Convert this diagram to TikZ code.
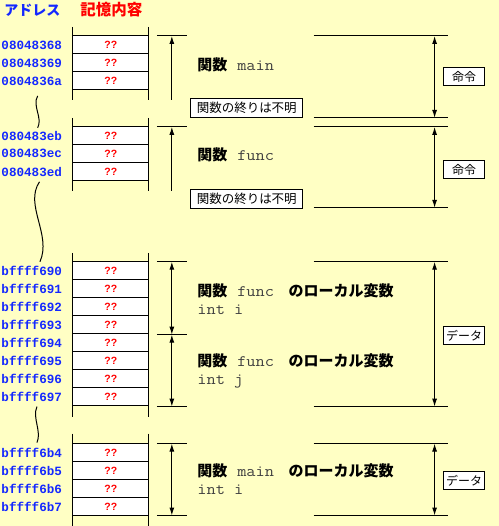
\documentclass[tikz,border=0pt]{standalone}
\usepackage{fontspec}
\usetikzlibrary{arrows.meta}
\newfontfamily\jp{Noto Sans CJK JP}
\newfontfamily\mono{Liberation Mono}
\newfontfamily\cour{Latin Modern Mono}[FakeStretch=1.12]
\newfontfamily\sans{Liberation Sans}
\definecolor{bg}{RGB}{255,255,196}
\definecolor{addrblue}{RGB}{20,40,255}
\definecolor{memred}{RGB}{255,0,0}
\begin{document}
\begin{tikzpicture}[x=1pt,y=-1pt,line width=1pt,
  cell/.style={draw,fill=white,minimum width=76pt,minimum height=18pt,inner sep=0pt,
    text=memred,font=\fontsize{10.5}{10.5}\selectfont\sans\bfseries},
  addr/.style={anchor=west,inner sep=0pt,text=addrblue,font=\fontsize{12.6}{12.6}\selectfont\mono\bfseries},
  fnlabel/.style={anchor=west,inner sep=0pt,font=\fontsize{15}{15}\selectfont},
  endbox/.style={draw,fill=white,minimum width=112pt,minimum height=19pt,inner sep=0pt,
    font=\fontsize{12.5}{12.5}\selectfont\jp},
  kindbox/.style={draw,fill=white,minimum width=41pt,minimum height=18pt,inner sep=0pt,
    font=\fontsize{12}{12}\selectfont\jp},
  arr/.style={-{Latex[length=8pt,width=5pt]}},
  darr/.style={{Latex[length=8pt,width=5pt]}-{Latex[length=8pt,width=5pt]}}
]
\newcommand{\kj}[1]{{\jp\bfseries #1}}
\newcommand{\cd}[1]{{\fontsize{16}{16}\selectfont\cour\color{black!75}#1}}
% background
\fill[bg] (0,0) rectangle (499,526);
% headers
\node[anchor=west,inner sep=0pt,text=addrblue,font=\fontsize{14}{14}\selectfont\jp\bfseries] (hA) at (4,10) {アドレス};
\node[anchor=west,inner sep=0pt,text=memred,font=\fontsize{15.5}{15.5}\selectfont\jp\bfseries] (hM) at (80,10) {記憶内容};
% memory column verticals
\foreach \a/\b in {27/100,118/191,253/417,434/526}{
  \draw (73,\a) -- (73,\b);
  \draw (149,\a) -- (149,\b);
}
% cells
\foreach \i/\y/\ad in {1/45/08048368,2/63/08048369,3/81/0804836a}{
  \node[cell] (a\i) at (111,\y) {??};
  \node[addr] (ad-a\i) at (1,\y) {\ad};
}
\foreach \i/\y/\ad in {1/136/080483eb,2/154/080483ec,3/172/080483ed}{
  \node[cell] (b\i) at (111,\y) {??};
  \node[addr] (ad-b\i) at (1,\y) {\ad};
}
\foreach \i/\y/\ad in {1/271/bffff690,2/289/bffff691,3/307/bffff692,4/325/bffff693,5/343/bffff694,6/361/bffff695,7/379/bffff696,8/397/bffff697}{
  \node[cell] (c\i) at (111,\y) {??};
  \node[addr] (ad-c\i) at (1,\y) {\ad};
}
\foreach \i/\y/\ad in {1/453/bffff6b4,2/471/bffff6b5,3/489/bffff6b6,4/507/bffff6b7}{
  \node[cell] (d\i) at (111,\y) {??};
  \node[addr] (ad-d\i) at (1,\y) {\ad};
}
% wavy breaks
\draw (37.7,96) .. controls (32,106) and (43,118) .. (37.7,128);
\draw (39.5,182) .. controls (24,205) and (52,235) .. (40,262);
\draw (37,407) .. controls (32,418) and (42,432) .. (37,443);
% left tick lines
\foreach \n/\y in {L1/36,L2/127,L3/262,L4/335,L5/407,L6/444,L7/516}{
  \coordinate (\n w) at (157,\y);
  \coordinate (\n e) at (187,\y);
  \coordinate (\n) at (172,\y);
  \draw (\n w) -- (\n e);
}
\coordinate (L1b) at (172,100);
\coordinate (L2b) at (172,191);
\draw[arr] (L1b) -- (L1);
\draw[arr] (L2b) -- (L2);
\draw[darr] (L3) -- (L4);
\draw[darr] (L4) -- (L5);
\draw[darr] (L6) -- (L7);
% right lines
\foreach \n/\y in {R1/36,R2/118,R3/127,R4/208,R5/262,R6/407,R7/444,R8/516}{
  \coordinate (\n w) at (314,\y);
  \coordinate (\n e) at (448,\y);
  \coordinate (\n) at (435,\y);
  \draw (\n w) -- (\n e);
}
\draw[darr] (R1) -- (R2);
\draw[darr] (R3) -- (R4);
\draw[darr] (R5) -- (R6);
\draw[darr] (R7) -- (R8);
% labels
\node[fnlabel] (f1) at (197,65) {\kj{関数}\hspace{10pt}\cd{main}};
\node[fnlabel] (f2) at (197,155) {\kj{関数}\hspace{10pt}\cd{func}};
\node[fnlabel] (f3) at (197,291) {\kj{関数}\hspace{10pt}\cd{func}\hspace{14.5pt}\kj{のローカル変数}};
\node[fnlabel] (f3b) at (197,310) {\cd{int i}};
\node[fnlabel] (f4) at (197,361) {\kj{関数}\hspace{10pt}\cd{func}\hspace{14.5pt}\kj{のローカル変数}};
\node[fnlabel] (f4b) at (197,382) {\cd{int j}};
\node[fnlabel] (f5) at (197,471) {\kj{関数}\hspace{10pt}\cd{main}\hspace{14.5pt}\kj{のローカル変数}};
\node[fnlabel] (f5b) at (197,490) {\cd{int i}};
\node[endbox] (e1) at (247,108) {関数の終りは不明};
\node[endbox] (e2) at (247,199) {関数の終りは不明};
\node[kindbox] (k1) at (464.5,77) {命令};
\node[kindbox] (k2) at (464.5,170) {命令};
\node[kindbox] (k3) at (464.5,336) {データ};
\node[kindbox] (k4) at (464.5,481) {データ};
\end{tikzpicture}
\end{document}
